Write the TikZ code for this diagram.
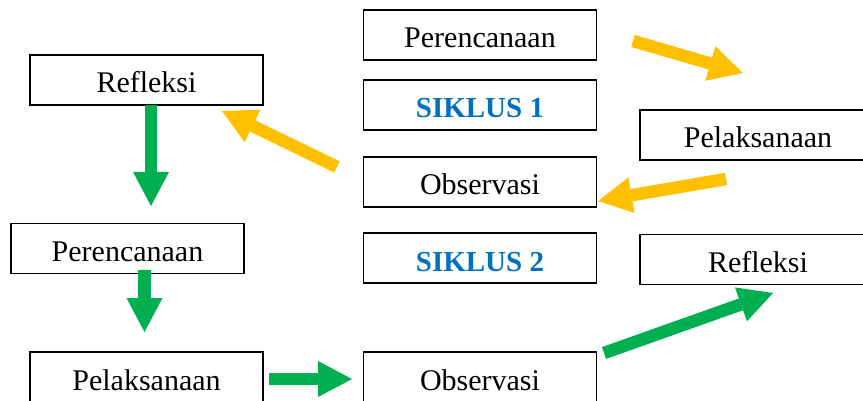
\documentclass[tikz,border=0pt]{standalone}
\usepackage{fontspec}
\setmainfont{Liberation Serif}
\usetikzlibrary{arrows.meta}
\definecolor{cycgold}{HTML}{FFC000}
\definecolor{cycgreen}{HTML}{00B050}
\definecolor{cycblue}{HTML}{0070C0}
\begin{document}
\begin{tikzpicture}[x=1pt,y=-1pt,
  stagebox/.style={draw=black,line width=1.3pt,minimum width=233pt,minimum height=50pt,
    inner sep=0pt,text height=26pt,text depth=0pt,
    font=\fontsize{30}{36}\selectfont},
  widebox/.style={stagebox,minimum width=236pt},
  cyclelabel/.style={stagebox,text=cycblue,font=\fontsize{29}{36}\selectfont\bfseries},
  goldarrow/.style={draw=cycgold,line width=12.5pt,
    -{Triangle[length=34pt,width=36pt,line width=0pt]}},
  greenarrow/.style={draw=cycgreen,line width=12.5pt,
    -{Triangle[length=34pt,width=36pt,line width=0pt]}}]
\useasboundingbox (0,0) rectangle (863,401);

% boxes of the first cycle
\node[stagebox] (plan1) at (480,35) {Perencanaan};
\node[cyclelabel] (cyc1) at (480,105) {SIKLUS 1};
\node[stagebox] (obs1) at (480,182) {Observasi};
\node[widebox] (act1) at (758,135) {Pelaksanaan};
\node[stagebox] (refl1) at (146.5,80) {Refleksi};

% boxes of the second cycle
\node[stagebox] (plan2) at (127.5,248.5) {Perencanaan};
\node[cyclelabel] (cyc2) at (480,258) {SIKLUS 2};
\node[stagebox] (act2) at (146.5,377) {Pelaksanaan};
\node[stagebox] (obs2) at (480,377) {Observasi};
\node[widebox] (refl2) at (758,259.5) {Refleksi};

% arrow end points
\coordinate (a1s) at (633,41);  \coordinate (a1e) at (743,73);
\coordinate (a2s) at (726,179); \coordinate (a2e) at (598,201);
\coordinate (a3s) at (337,167); \coordinate (a3e) at (222,111);
\coordinate (b1s) at (151,105); \coordinate (b1e) at (151,206);
\coordinate (b2s) at (144.5,270); \coordinate (b2e) at (144.5,332);
\coordinate (b3s) at (269,379); \coordinate (b3e) at (352,379);
\coordinate (b4s) at (604,353); \coordinate (b4e) at (773,293);

% first cycle
\draw[goldarrow] (a1s) -- (a1e);
\draw[goldarrow] (a2s) -- (a2e);
\draw[goldarrow] (a3s) -- (a3e);

% second cycle
\draw[greenarrow] (b1s) -- (b1e);
\draw[greenarrow] (b2s) -- (b2e);
\draw[greenarrow] (b3s) -- (b3e);
\draw[greenarrow] (b4s) -- (b4e);
\end{tikzpicture}
\end{document}
